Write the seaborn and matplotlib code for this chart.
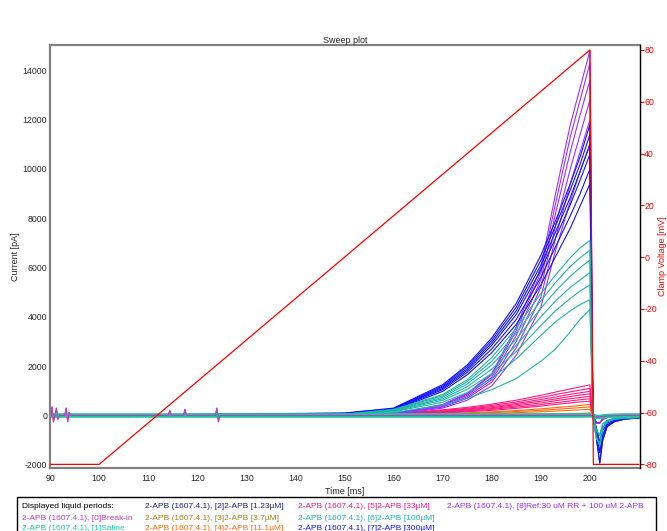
import pandas as pd
import seaborn as sns
import matplotlib.pyplot as plt
from matplotlib.patches import Rectangle

# time grids [ms]
START_T = [90]
RISE_T = [150, 160, 170, 175, 180, 185, 190, 193, 196, 198, 200]
TAIL_T = [200.6, 201.3, 202.0, 202.6, 203.5, 205, 207, 210]

# clamp voltage ramp
V_T = [90, 100, 200, 200.7, 210]
V_MV = [-80, -80, 80, -80, -80]

# current sweeps [pA] at RISE_T
breakin = [[0, 0, 0, 0, 0, 0, 0, 0, 0, 0, 0]]
saline = [[0, 0, 0, 0, 0, 0, 0, 0, 0, 0, 0],
          [0, 0, 0, 0, 0, 0, 0, 0, 0, 0, 20]]
apb_1_23 = [[0, 0, 0, 0, 0, 0, 0, 0, 0, 0, 0]]
apb_3_7 = [[0, 0, 10, 20, 30, 40, 60, 70, 80, 90, 100],
           [0, 0, 0, 10, 20, 30, 40, 50, 60, 60, 70]]
apb_11_1 = [[0, 30, 80, 110, 150, 200, 270, 320, 370, 410, 450],
            [0, 20, 60, 85, 115, 160, 210, 250, 290, 320, 350],
            [0, 10, 40, 60, 85, 115, 150, 180, 210, 230, 250]]
apb_33 = [[0, 80, 230, 330, 460, 620, 820, 950, 1080, 1160, 1240],
          [0, 70, 200, 290, 410, 550, 730, 850, 960, 1030, 1100],
          [0, 60, 180, 260, 360, 490, 650, 750, 860, 920, 980],
          [0, 50, 160, 230, 320, 440, 580, 670, 770, 830, 880],
          [0, 45, 140, 200, 280, 390, 510, 600, 680, 730, 780],
          [0, 40, 120, 180, 250, 340, 440, 520, 590, 640, 680],
          [0, 35, 100, 150, 210, 290, 380, 450, 510, 550, 580]]
apb_100 = [[50, 250, 850, 1450, 2350, 3550, 4950, 5700, 6400, 6800, 7100],
           [50, 230, 800, 1370, 2200, 3350, 4650, 5400, 6050, 6400, 6700],
           [40, 210, 740, 1280, 2050, 3100, 4350, 5050, 5650, 6000, 6300],
           [40, 190, 680, 1170, 1880, 2850, 4000, 4650, 5200, 5500, 5800],
           [30, 170, 620, 1060, 1700, 2600, 3650, 4250, 4750, 5050, 5300],
           [30, 150, 540, 930, 1500, 2300, 3250, 3800, 4250, 4500, 4700],
           [20, 120, 420, 700, 1050, 1500, 2200, 2700, 3400, 3900, 4300]]
apb_300 = [[100, 300, 1250, 2050, 3150, 4550, 6500, 7900, 9400, 10500, 11800],
           [90, 280, 1200, 1980, 3050, 4400, 6300, 7700, 9150, 10200, 11400],
           [80, 260, 1150, 1900, 2950, 4250, 6100, 7450, 8850, 9900, 11000],
           [70, 250, 1100, 1830, 2850, 4100, 5900, 7200, 8550, 9550, 10600],
           [60, 230, 1050, 1750, 2700, 3900, 5600, 6850, 8100, 9000, 10000],
           [50, 210, 980, 1650, 2550, 3700, 5300, 6450, 7600, 8500, 9400]]
ref = [[0, 80, 450, 900, 1700, 3600, 6000, 9000, 11800, 13300, 14800],
       [0, 80, 430, 870, 1650, 3450, 5800, 8600, 11300, 12800, 14300],
       [0, 70, 400, 820, 1550, 3250, 5500, 8200, 10700, 12200, 13600],
       [0, 60, 370, 760, 1450, 3000, 5200, 7700, 10000, 11400, 12800],
       [0, 50, 340, 700, 1350, 2750, 4800, 7200, 9400, 10700, 12000],
       [0, 40, 300, 620, 1200, 2450, 4400, 6700, 8700, 9900, 11000]]

# tails after the step back to -80 mV, at TAIL_T
flat_tail = [[0, -60, -60, -40, -20, -10, 0, 0]]
teal_tail = [[0, -900, -1200, -500, -250, -150, -100, -80],
             [0, -600, -800, -350, -200, -120, -80, -60]]
blue_tail = [[0, -900, -1930, -1000, -450, -250, -150, -100],
             [0, -700, -1500, -800, -380, -220, -130, -100],
             [0, -500, -1100, -600, -300, -180, -120, -90]]
purple_tail = [[0, -300, -300, -150, -80, -50, 0, 0]]

# break-in spikes on the baseline
spike_t = [90.2, 90.4, 90.7, 91.0, 91.3, 91.6, 91.9,
           93.0, 93.3, 93.6, 93.9, 94.2,
           114.1, 114.4, 114.7, 117.2, 117.5, 117.8,
           123.7, 124.0, 124.3, 124.6, 124.9]
spike_i = [0, 350, -260, 0, 300, -150, 0,
           0, 300, -250, 120, 0,
           0, 200, 0, 0, 250, 0,
           0, 300, -250, 0, 0]

# zero reference line
zero_t = [90, 200]
zero_i = [0, 0]

labels = ['[0]Break-in', '[1]Saline', '[2]2-APB [1.23µM]', '[3]2-APB [3.7µM]',
          '[4]2-APB [11.1µM]', '[5]2-APB [33µM]', '[6]2-APB [100µM]',
          '[7]2-APB [300µM]', '[8]Ref:30 uM RR + 100 uM 2-APB']
colors = ['#c03cc0', '#20c8a0', '#20207a', '#a08020', '#ff6a10',
          '#ff1a80', '#20b4a8', '#1010ff', '#9a30ff']
sweeps = [breakin, saline, apb_1_23, apb_3_7, apb_11_1, apb_33, apb_100, apb_300, ref]
tails = [flat_tail, flat_tail, flat_tail, flat_tail, flat_tail, flat_tail,
         teal_tail, blue_tail, purple_tail]

rows = []
for g, (lab, sw, tl) in enumerate(zip(labels, sweeps, tails)):
    for k, s in enumerate(sw):
        t = START_T + RISE_T + TAIL_T
        y = [0] + s + tl[k % len(tl)]
        if g == 0:
            t = START_T + spike_t + RISE_T + TAIL_T
            y = [0] + spike_i + s + tl[0]
        for tt, yy in zip(t, y):
            rows.append({'time': tt, 'current': yy, 'group': lab, 'sweep': f'{g}-{k}'})
df = pd.DataFrame(rows)

sns.set_style('white')
plt.rcParams['font.family'] = ['Liberation Sans', 'DejaVu Sans']
plt.rcParams['axes.unicode_minus'] = False

fig = plt.figure(figsize=(6.67, 5.31), dpi=100)
ax = fig.add_axes([50 / 667, 1 - 468 / 531, 590 / 667, 423 / 531])

ax.plot(zero_t, zero_i, color='#a0a0a0', lw=1, ls=(0, (2, 2)))
pal = dict(zip(labels, colors))
draw_order = [labels[i] for i in [0, 2, 3, 4, 5, 8, 7, 6]]
sns.lineplot(data=df[df['group'] != labels[1]], x='time', y='current', hue='group',
             units='sweep', estimator=None, sort=False, hue_order=draw_order,
             palette=pal, lw=0.8, legend=False, ax=ax)
# saline baseline drawn as a thick band on top
sns.lineplot(data=df[df['group'] == labels[1]], x='time', y='current', units='sweep',
             estimator=None, sort=False, color=colors[1], lw=3, legend=False, ax=ax)
# break-in spikes stay visible above the band
sns.lineplot(data=df[df['group'] == labels[0]], x='time', y='current', units='sweep',
             estimator=None, sort=False, color=colors[0], lw=0.8, legend=False, ax=ax)

ax.set_xlim(90, 210.2)
ax.set_ylim(-2130, 15030)
ax.set_xticks(range(90, 201, 10))
ax.set_yticks(range(-2000, 14001, 2000))
ax.tick_params(labelsize=6.3, length=0, pad=2)
ax.tick_params(axis='x', pad=4)
ax.set_xlabel('Time [ms]', fontsize=6.5, labelpad=3)
ax.set_ylabel('Current [pA]', fontsize=6.5, labelpad=2)
ax.set_title('Sweep plot', fontsize=6.5, pad=1)
for side in ['left', 'top', 'bottom']:
    ax.spines[side].set_color('#808080')
    ax.spines[side].set_linewidth(1.6)

ax2 = ax.twinx()
sns.lineplot(x=V_T, y=V_MV, color='red', lw=0.9, ax=ax2, sort=False)
ax2.set_ylim(-81.4, 81.9)
ax2.set_yticks(range(-80, 81, 20))
ax2.tick_params(axis='y', colors='red', labelsize=6.3, length=3, pad=0)
ax2.set_ylabel('Clamp Voltage [mV]', color='red', fontsize=6.5, labelpad=1)
ax2.spines['right'].set_color('black')
ax2.spines['right'].set_linewidth(1.0)
for side in ['left', 'top', 'bottom']:
    ax2.spines[side].set_visible(False)

# legend box
fig.patches.append(Rectangle((17 / 667, -0.05), 639 / 667, 0.05 + 1 - 497 / 531,
                             transform=fig.transFigure, fill=False,
                             edgecolor='black', lw=1))
col_x = [22 / 667, 145 / 667, 298 / 667, 447 / 667]
row_y = [1 - 506 / 531, 1 - 518 / 531, 1 - 529 / 531]
fig.text(col_x[0], row_y[0], 'Displayed liquid periods:', fontsize=6, va='center', color='black')
slots = [(0, 1), (0, 2), (1, 0), (1, 1), (1, 2), (2, 0), (2, 1), (2, 2), (3, 0)]
for lab, c, (ci, ri) in zip(labels, colors, slots):
    fig.text(col_x[ci], row_y[ri], '2-APB (1607.4.1), ' + lab, fontsize=6,
             va='center', color=c)

fig.savefig('out.png', dpi=100)
